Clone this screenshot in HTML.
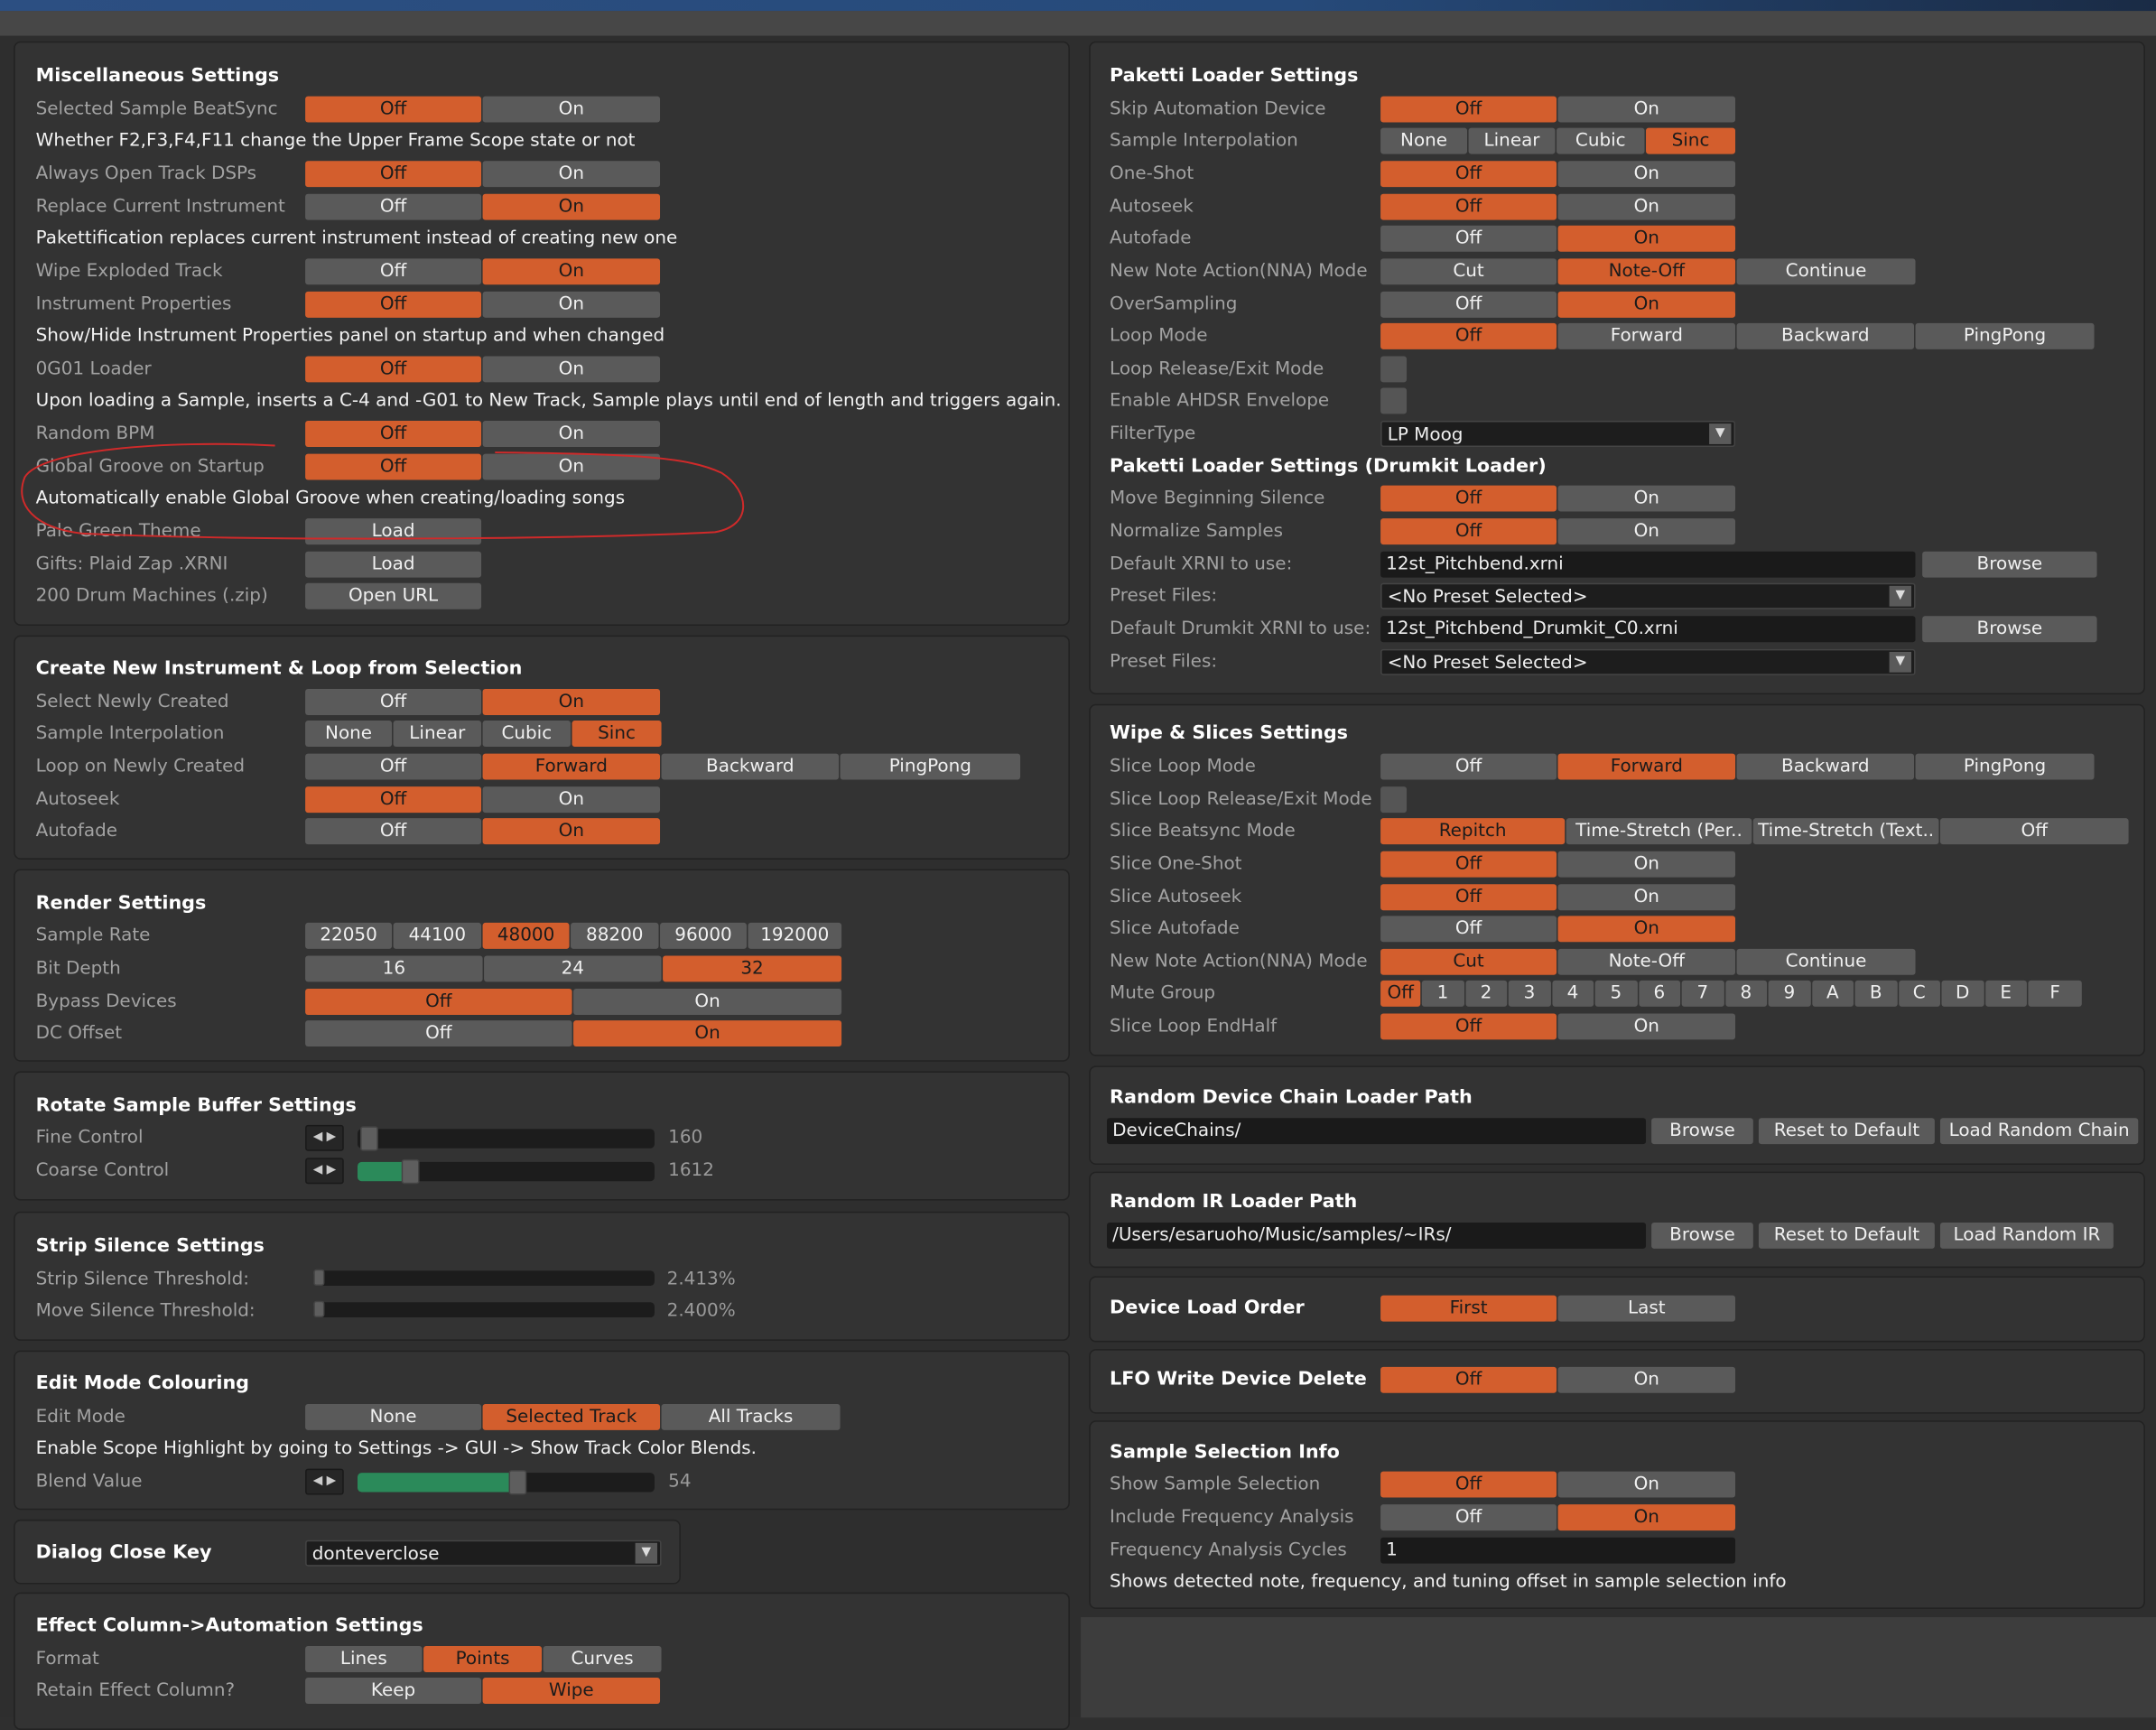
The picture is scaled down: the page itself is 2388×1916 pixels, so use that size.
<!DOCTYPE html>
<html><head><meta charset="utf-8"><style>
html,body{margin:0;padding:0;background:#2f2f2f;width:2388px;height:1902px;overflow:hidden}
#w{position:absolute;left:0;top:0;width:1568px;height:1249px;transform:scale(1.5230);transform-origin:0 0;background:#3d3d3d;font-family:"DejaVu Sans","Liberation Sans",sans-serif;font-size:13.1px}
#c{position:absolute;left:0;top:2px;width:1568px;height:1249px}
.s{position:absolute;background:#333;border:1px solid #222;border-radius:5px;box-sizing:border-box}
.l,.d,.t{position:absolute;height:19px;line-height:19px;white-space:nowrap}
.l{color:#a2a2a2}
.d{color:#f2f2f2}
.t{color:#fff;font-weight:bold;font-size:13.6px}
.g{position:absolute;display:flex;height:19px;gap:1px}
.g i{font-style:normal;background:#5a5a5a;color:#f0f0f0;text-align:center;line-height:19px;border-radius:2px;overflow:hidden;white-space:nowrap}
.g i.o{background:#d35e2d;color:#1b1b1b}
.f{position:absolute;height:19px;line-height:19px;background:#1a1a1a;color:#eee;padding-left:4px;box-sizing:border-box;border-radius:2px;white-space:nowrap}
.dd{position:absolute;height:19px;line-height:19px;background:#1d1d1d;color:#eee;padding-left:4px;box-sizing:border-box;border:1px solid #444;border-radius:2px}
.dd b{position:absolute;right:2px;top:1px;width:16px;height:15px;background:#5a5a5a;color:#ddd;font-size:9px;text-align:center;line-height:15px;font-weight:normal}
.cb{position:absolute;width:19px;height:19px;background:#555;border-radius:2px}
.ar{position:absolute;width:28px;height:19px;background:#262626;border:1px solid #191919;box-sizing:border-box;color:#ccc;font-size:9px;text-align:center;line-height:17px;border-radius:2px}
.tr{position:absolute;height:14px;background:#1c1c1c;border-radius:3px}
.gr{position:absolute;height:14px;background:#2b8a5a;border-radius:3px 0 0 3px}
.h{position:absolute;width:13px;height:18px;background:#5e5e5e;border:1px solid #444;box-sizing:border-box;border-radius:2px}
.v{position:absolute;color:#9a9a9a;height:19px;line-height:19px}
</style></head><body><div id="w">
<div style="position:absolute;left:0;top:0;width:1568px;height:8px;background:linear-gradient(90deg,#2c4f82,#264a7a 60%,#1a2b45)"></div>
<div style="position:absolute;left:0;top:8px;width:1568px;height:18px;background:#474747"></div>
<div style="position:absolute;left:0;top:26px;width:786px;height:1223px;background:#2e2e2e"></div>
<div style="position:absolute;left:786px;top:26px;width:782px;height:1150px;background:#2e2e2e"></div>

<div class="s" style="left:10px;top:30px;width:768px;height:425px"></div>
<div class="s" style="left:10px;top:462px;width:768px;height:163px"></div>
<div class="s" style="left:10px;top:632px;width:768px;height:140px"></div>
<div class="s" style="left:10px;top:779px;width:768px;height:94px"></div>
<div class="s" style="left:10px;top:881px;width:768px;height:94px"></div>
<div class="s" style="left:10px;top:982px;width:768px;height:116px"></div>
<div class="s" style="left:10px;top:1105px;width:485px;height:47px"></div>
<div class="s" style="left:10px;top:1158px;width:768px;height:100px"></div>
<div class="s" style="left:792px;top:30px;width:768px;height:475px"></div>
<div class="s" style="left:792px;top:512px;width:768px;height:256px"></div>
<div class="s" style="left:792px;top:775px;width:768px;height:72px"></div>
<div class="s" style="left:792px;top:852px;width:768px;height:70px"></div>
<div class="s" style="left:792px;top:928px;width:768px;height:48px"></div>
<div class="s" style="left:792px;top:981px;width:768px;height:47px"></div>
<div class="s" style="left:792px;top:1033px;width:768px;height:137px"></div>
<div id="c">
<div class="t" style="left:26px;top:44px">Miscellaneous Settings</div>
<div class="l" style="left:26px;top:68px">Selected Sample BeatSync</div>
<div class="g" style="left:222px;top:68px"><i class="o" style="width:128px">Off</i><i style="width:129px">On</i></div>
<div class="d" style="left:26px;top:91px">Whether F2,F3,F4,F11 change the Upper Frame Scope state or not</div>
<div class="l" style="left:26px;top:115px">Always Open Track DSPs</div>
<div class="g" style="left:222px;top:115px"><i class="o" style="width:128px">Off</i><i style="width:129px">On</i></div>
<div class="l" style="left:26px;top:139px">Replace Current Instrument</div>
<div class="g" style="left:222px;top:139px"><i style="width:128px">Off</i><i class="o" style="width:129px">On</i></div>
<div class="d" style="left:26px;top:162px">Pakettification replaces current instrument instead of creating new one</div>
<div class="l" style="left:26px;top:186px">Wipe Exploded Track</div>
<div class="g" style="left:222px;top:186px"><i style="width:128px">Off</i><i class="o" style="width:129px">On</i></div>
<div class="l" style="left:26px;top:210px">Instrument Properties</div>
<div class="g" style="left:222px;top:210px"><i class="o" style="width:128px">Off</i><i style="width:129px">On</i></div>
<div class="d" style="left:26px;top:233px">Show/Hide Instrument Properties panel on startup and when changed</div>
<div class="l" style="left:26px;top:257px">0G01 Loader</div>
<div class="g" style="left:222px;top:257px"><i class="o" style="width:128px">Off</i><i style="width:129px">On</i></div>
<div class="d" style="left:26px;top:280px">Upon loading a Sample, inserts a C-4 and -G01 to New Track, Sample plays until end of length and triggers again.</div>
<div class="l" style="left:26px;top:304px">Random BPM</div>
<div class="g" style="left:222px;top:304px"><i class="o" style="width:128px">Off</i><i style="width:129px">On</i></div>
<div class="l" style="left:26px;top:328px">Global Groove on Startup</div>
<div class="g" style="left:222px;top:328px"><i class="o" style="width:128px">Off</i><i style="width:129px">On</i></div>
<div class="d" style="left:26px;top:351px">Automatically enable Global Groove when creating/loading songs</div>
<div class="l" style="left:26px;top:375px">Pale Green Theme</div>
<div class="g" style="left:222px;top:375px"><i style="width:128px">Load</i></div>
<div class="l" style="left:26px;top:399px">Gifts: Plaid Zap .XRNI</div>
<div class="g" style="left:222px;top:399px"><i style="width:128px">Load</i></div>
<div class="l" style="left:26px;top:422px">200 Drum Machines (.zip)</div>
<div class="g" style="left:222px;top:422px"><i style="width:128px">Open URL</i></div>
<svg style="position:absolute;left:0;top:0" width="600" height="400"><path d="M200,322 C120,318 30,325 18,345 C10,365 25,382 60,386 C200,392 420,390 520,385 C548,380 545,355 525,342 C500,330 460,328 360,327" fill="none" stroke="#d02a2a" stroke-width="1.3"/></svg>

<div class="t" style="left:26px;top:475px">Create New Instrument &amp; Loop from Selection</div>
<div class="l" style="left:26px;top:499px">Select Newly Created</div>
<div class="g" style="left:222px;top:499px"><i style="width:128px">Off</i><i class="o" style="width:129px">On</i></div>
<div class="l" style="left:26px;top:522px">Sample Interpolation</div>
<div class="g" style="left:222px;top:522px"><i style="width:63px">None</i><i style="width:64px">Linear</i><i style="width:64px">Cubic</i><i class="o" style="width:65px">Sinc</i></div>
<div class="l" style="left:26px;top:546px">Loop on Newly Created</div>
<div class="g" style="left:222px;top:546px"><i style="width:128px">Off</i><i class="o" style="width:129px">Forward</i><i style="width:129px">Backward</i><i style="width:131px">PingPong</i></div>
<div class="l" style="left:26px;top:570px">Autoseek</div>
<div class="g" style="left:222px;top:570px"><i class="o" style="width:128px">Off</i><i style="width:129px">On</i></div>
<div class="l" style="left:26px;top:593px">Autofade</div>
<div class="g" style="left:222px;top:593px"><i style="width:128px">Off</i><i class="o" style="width:129px">On</i></div>

<div class="t" style="left:26px;top:646px">Render Settings</div>
<div class="l" style="left:26px;top:669px">Sample Rate</div>
<div class="g" style="left:222px;top:669px"><i style="width:63px">22050</i><i style="width:64px">44100</i><i class="o" style="width:63px">48000</i><i style="width:64px">88200</i><i style="width:63px">96000</i><i style="width:68px">192000</i></div>
<div class="l" style="left:26px;top:693px">Bit Depth</div>
<div class="g" style="left:222px;top:693px"><i style="width:129px">16</i><i style="width:129px">24</i><i class="o" style="width:130px">32</i></div>
<div class="l" style="left:26px;top:717px">Bypass Devices</div>
<div class="g" style="left:222px;top:717px"><i class="o" style="width:194px">Off</i><i style="width:195px">On</i></div>
<div class="l" style="left:26px;top:740px">DC Offset</div>
<div class="g" style="left:222px;top:740px"><i style="width:194px">Off</i><i class="o" style="width:195px">On</i></div>

<div class="t" style="left:26px;top:793px">Rotate Sample Buffer Settings</div>
<div class="l" style="left:26px;top:816px">Fine Control</div>
<div class="ar" style="left:222px;top:816px">◀ ▶</div>
<div class="tr" style="left:260px;top:819px;width:216px"></div>
<div class="h" style="left:262px;top:817px"></div>
<div class="v" style="left:486px;top:816px">160</div>
<div class="l" style="left:26px;top:840px">Coarse Control</div>
<div class="ar" style="left:222px;top:840px">◀ ▶</div>
<div class="tr" style="left:260px;top:843px;width:216px"></div>
<div class="gr" style="left:260px;top:843px;width:34px"></div>
<div class="h" style="left:292px;top:841px"></div>
<div class="v" style="left:486px;top:840px">1612</div>

<div class="t" style="left:26px;top:895px">Strip Silence Settings</div>
<div class="l" style="left:26px;top:919px">Strip Silence Threshold:</div>
<div class="tr" style="left:228px;top:922px;width:248px;height:11px"></div>
<div class="h" style="left:228px;top:921px;width:8px;height:12px"></div>
<div class="v" style="left:485px;top:919px">2.413%</div>
<div class="l" style="left:26px;top:942px">Move Silence Threshold:</div>
<div class="tr" style="left:228px;top:945px;width:248px;height:11px"></div>
<div class="h" style="left:228px;top:944px;width:8px;height:12px"></div>
<div class="v" style="left:485px;top:942px">2.400%</div>

<div class="t" style="left:26px;top:995px">Edit Mode Colouring</div>
<div class="l" style="left:26px;top:1019px">Edit Mode</div>
<div class="g" style="left:222px;top:1019px"><i style="width:128px">None</i><i class="o" style="width:129px">Selected Track</i><i style="width:130px">All Tracks</i></div>
<div class="d" style="left:26px;top:1042px">Enable Scope Highlight by going to Settings -&gt; GUI -&gt; Show Track Color Blends.</div>
<div class="l" style="left:26px;top:1066px">Blend Value</div>
<div class="ar" style="left:222px;top:1066px">◀ ▶</div>
<div class="tr" style="left:260px;top:1069px;width:216px"></div>
<div class="gr" style="left:260px;top:1069px;width:112px"></div>
<div class="h" style="left:370px;top:1067px"></div>
<div class="v" style="left:486px;top:1066px">54</div>

<div class="t" style="left:26px;top:1118px">Dialog Close Key</div>
<div class="dd" style="left:222px;top:1118px;width:259px">donteverclose<b>▼</b></div>

<div class="t" style="left:26px;top:1171px">Effect Column-&gt;Automation Settings</div>
<div class="l" style="left:26px;top:1195px">Format</div>
<div class="g" style="left:222px;top:1195px"><i style="width:85px">Lines</i><i class="o" style="width:86px">Points</i><i style="width:86px">Curves</i></div>
<div class="l" style="left:26px;top:1218px">Retain Effect Column?</div>
<div class="g" style="left:222px;top:1218px"><i style="width:128px">Keep</i><i class="o" style="width:129px">Wipe</i></div>

<div class="t" style="left:807px;top:44px">Paketti Loader Settings</div>
<div class="l" style="left:807px;top:68px">Skip Automation Device</div>
<div class="g" style="left:1004px;top:68px"><i class="o" style="width:128px">Off</i><i style="width:129px">On</i></div>
<div class="l" style="left:807px;top:91px">Sample Interpolation</div>
<div class="g" style="left:1004px;top:91px"><i style="width:63px">None</i><i style="width:63px">Linear</i><i style="width:64px">Cubic</i><i class="o" style="width:65px">Sinc</i></div>
<div class="l" style="left:807px;top:115px">One-Shot</div>
<div class="g" style="left:1004px;top:115px"><i class="o" style="width:128px">Off</i><i style="width:129px">On</i></div>
<div class="l" style="left:807px;top:139px">Autoseek</div>
<div class="g" style="left:1004px;top:139px"><i class="o" style="width:128px">Off</i><i style="width:129px">On</i></div>
<div class="l" style="left:807px;top:162px">Autofade</div>
<div class="g" style="left:1004px;top:162px"><i style="width:128px">Off</i><i class="o" style="width:129px">On</i></div>
<div class="l" style="left:807px;top:186px">New Note Action(NNA) Mode</div>
<div class="g" style="left:1004px;top:186px"><i style="width:128px">Cut</i><i class="o" style="width:129px">Note-Off</i><i style="width:130px">Continue</i></div>
<div class="l" style="left:807px;top:210px">OverSampling</div>
<div class="g" style="left:1004px;top:210px"><i style="width:128px">Off</i><i class="o" style="width:129px">On</i></div>
<div class="l" style="left:807px;top:233px">Loop Mode</div>
<div class="g" style="left:1004px;top:233px"><i class="o" style="width:128px">Off</i><i style="width:129px">Forward</i><i style="width:129px">Backward</i><i style="width:130px">PingPong</i></div>
<div class="l" style="left:807px;top:257px">Loop Release/Exit Mode</div>
<div class="cb" style="left:1004px;top:257px"></div>
<div class="l" style="left:807px;top:280px">Enable AHDSR Envelope</div>
<div class="cb" style="left:1004px;top:280px"></div>
<div class="l" style="left:807px;top:304px">FilterType</div>
<div class="dd" style="left:1004px;top:304px;width:258px">LP Moog<b>▼</b></div>
<div class="t" style="left:807px;top:328px">Paketti Loader Settings (Drumkit Loader)</div>
<div class="l" style="left:807px;top:351px">Move Beginning Silence</div>
<div class="g" style="left:1004px;top:351px"><i class="o" style="width:128px">Off</i><i style="width:129px">On</i></div>
<div class="l" style="left:807px;top:375px">Normalize Samples</div>
<div class="g" style="left:1004px;top:375px"><i class="o" style="width:128px">Off</i><i style="width:129px">On</i></div>
<div class="l" style="left:807px;top:399px">Default XRNI to use:</div>
<div class="f" style="left:1004px;top:399px;width:389px">12st_Pitchbend.xrni</div>
<div class="g" style="left:1398px;top:399px"><i style="width:127px">Browse</i></div>
<div class="l" style="left:807px;top:422px">Preset Files:</div>
<div class="dd" style="left:1004px;top:422px;width:389px">&lt;No Preset Selected&gt;<b>▼</b></div>
<div class="l" style="left:807px;top:446px">Default Drumkit XRNI to use:</div>
<div class="f" style="left:1004px;top:446px;width:389px">12st_Pitchbend_Drumkit_C0.xrni</div>
<div class="g" style="left:1398px;top:446px"><i style="width:127px">Browse</i></div>
<div class="l" style="left:807px;top:470px">Preset Files:</div>
<div class="dd" style="left:1004px;top:470px;width:389px">&lt;No Preset Selected&gt;<b>▼</b></div>

<div class="t" style="left:807px;top:522px">Wipe &amp; Slices Settings</div>
<div class="l" style="left:807px;top:546px">Slice Loop Mode</div>
<div class="g" style="left:1004px;top:546px"><i style="width:128px">Off</i><i class="o" style="width:129px">Forward</i><i style="width:129px">Backward</i><i style="width:130px">PingPong</i></div>
<div class="l" style="left:807px;top:570px">Slice Loop Release/Exit Mode</div>
<div class="cb" style="left:1004px;top:570px"></div>
<div class="l" style="left:807px;top:593px">Slice Beatsync Mode</div>
<div class="g" style="left:1004px;top:593px"><i class="o" style="width:134px">Repitch</i><i style="width:135px">Time-Stretch (Per..</i><i style="width:135px">Time-Stretch (Text..</i><i style="width:137px">Off</i></div>
<div class="l" style="left:807px;top:617px">Slice One-Shot</div>
<div class="g" style="left:1004px;top:617px"><i class="o" style="width:128px">Off</i><i style="width:129px">On</i></div>
<div class="l" style="left:807px;top:641px">Slice Autoseek</div>
<div class="g" style="left:1004px;top:641px"><i class="o" style="width:128px">Off</i><i style="width:129px">On</i></div>
<div class="l" style="left:807px;top:664px">Slice Autofade</div>
<div class="g" style="left:1004px;top:664px"><i style="width:128px">Off</i><i class="o" style="width:129px">On</i></div>
<div class="l" style="left:807px;top:688px">New Note Action(NNA) Mode</div>
<div class="g" style="left:1004px;top:688px"><i class="o" style="width:128px">Cut</i><i style="width:129px">Note-Off</i><i style="width:130px">Continue</i></div>
<div class="l" style="left:807px;top:711px">Mute Group</div>
<div class="g" style="left:1004px;top:711px"><i class="o" style="width:29px">Off</i><i style="width:30.5px">1</i><i style="width:30.5px">2</i><i style="width:30.5px">3</i><i style="width:30.5px">4</i><i style="width:30.5px">5</i><i style="width:30.5px">6</i><i style="width:30.5px">7</i><i style="width:30.5px">8</i><i style="width:30.5px">9</i><i style="width:30.5px">A</i><i style="width:30.5px">B</i><i style="width:30.5px">C</i><i style="width:30.5px">D</i><i style="width:30.5px">E</i><i style="width:39px">F</i></div>
<div class="l" style="left:807px;top:735px">Slice Loop EndHalf</div>
<div class="g" style="left:1004px;top:735px"><i class="o" style="width:128px">Off</i><i style="width:129px">On</i></div>

<div class="t" style="left:807px;top:787px">Random Device Chain Loader Path</div>
<div class="f" style="left:805px;top:811px;width:392px">DeviceChains/</div>
<div class="g" style="left:1201px;top:811px"><i style="width:74px">Browse</i></div>
<div class="g" style="left:1279px;top:811px"><i style="width:128px">Reset to Default</i></div>
<div class="g" style="left:1411px;top:811px"><i style="width:144px">Load Random Chain</i></div>
<div class="t" style="left:807px;top:863px">Random IR Loader Path</div>
<div class="f" style="left:805px;top:887px;width:392px">/Users/esaruoho/Music/samples/~IRs/</div>
<div class="g" style="left:1201px;top:887px"><i style="width:74px">Browse</i></div>
<div class="g" style="left:1279px;top:887px"><i style="width:128px">Reset to Default</i></div>
<div class="g" style="left:1411px;top:887px"><i style="width:126px">Load Random IR</i></div>
<div class="t" style="left:807px;top:940px">Device Load Order</div>
<div class="g" style="left:1004px;top:940px"><i class="o" style="width:128px">First</i><i style="width:129px">Last</i></div>
<div class="t" style="left:807px;top:992px">LFO Write Device Delete</div>
<div class="g" style="left:1004px;top:992px"><i class="o" style="width:128px">Off</i><i style="width:129px">On</i></div>

<div class="t" style="left:807px;top:1045px">Sample Selection Info</div>
<div class="l" style="left:807px;top:1068px">Show Sample Selection</div>
<div class="g" style="left:1004px;top:1068px"><i class="o" style="width:128px">Off</i><i style="width:129px">On</i></div>
<div class="l" style="left:807px;top:1092px">Include Frequency Analysis</div>
<div class="g" style="left:1004px;top:1092px"><i style="width:128px">Off</i><i class="o" style="width:129px">On</i></div>
<div class="l" style="left:807px;top:1116px">Frequency Analysis Cycles</div>
<div class="f" style="left:1004px;top:1116px;width:258px">1</div>
<div class="d" style="left:807px;top:1139px">Shows detected note, frequency, and tuning offset in sample selection info</div>
</div>
</div></body></html>
